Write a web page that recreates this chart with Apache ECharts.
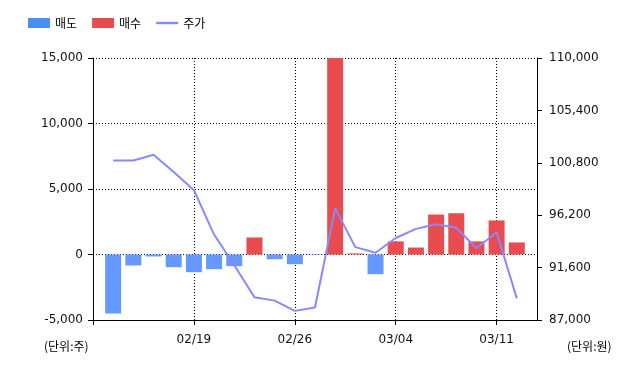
<!DOCTYPE html>
<html>
<head>
<meta charset="utf-8">
<script src="https://cdn.jsdelivr.net/npm/echarts@6/dist/echarts.min.js"></script>
<style>
html,body{margin:0;padding:0;background:#fff;}
#c{width:640px;height:368px;}
</style>
</head>
<body>
<div id="c"></div>
<script>
// Trading days (pad at both ends for axis spacing)
var dates = ['', '02/13','02/14','02/17','02/18','02/19','02/20','02/21','02/24','02/25','02/26',
             '02/27','02/28','03/02','03/03','03/04','03/05','03/06','03/09','03/10','03/11','03/12', ''];
var tickLabels = ['02/19','02/26','03/04','03/11'];
// 매도 (net selling, negative)
var sellValues = [null, -4500, -840, -150, -970, -1350, -1120, -890, null, -360, -740, -40, null, null, -1500, null, null, null, null, null, null, null, null];
// 매수 (net buying, positive)
var buyValues  = [null, null, null, null, null, null, null, null, 1300, null, null, null, 15000, 80, null, 1000, 530, 3050, 3150, 1000, 2600, 920, null];
// 주가 (price)
var priceValues = [null, 101000, 101000, 101500, 100000, 98400, 94500, 91800, 89000, 88700, 87800, 88100, 96800,
                   93400, 92900, 94200, 95000, 95400, 95100, 93300, 94700, 88900, null];
var leftTicks = [-5000, 0, 5000, 10000, 15000];
var rightTicks = [87000, 91600, 96200, 100800, 105400, 110000];

var fmt = function (v) { return Number(v).toLocaleString('en-US'); };
var tickIdx = function (i) { return i === 0 || tickLabels.indexOf(dates[i]) >= 0; };
var labelIdx = function (i) { return tickLabels.indexOf(dates[i]) >= 0; };

var chart = echarts.init(document.getElementById('c'), null, {renderer: 'canvas'});
var axisFont = {color: '#111', fontSize: 12, fontFamily: 'Tahoma, "DejaVu Sans", sans-serif'};
chart.setOption({
  animation: false,
  backgroundColor: '#fff',
  legend: {
    left: 28, top: 17, padding: 0,
    itemWidth: 22, itemHeight: 10, itemGap: 15,
    textStyle: {fontSize: 12, color: '#000', fontFamily: '"Noto Sans CJK KR", sans-serif'},
    data: [
      {name: '매도', icon: 'rect', itemStyle: {color: '#4a90f0'}},
      {name: '매수', icon: 'rect', itemStyle: {color: '#e84c4f'}},
      {name: '주가', icon: 'path://M0,0L0,0M0,3.8L22,3.8L22,6.2L0,6.2ZM22,10L22,10', itemStyle: {color: '#8888ff'}}
    ]
  },
  grid: {left: 93, right: 103, top: 58, bottom: 48, containLabel: false},
  xAxis: {
    type: 'category',
    data: dates,
    boundaryGap: false,
    axisLine: {onZero: false, lineStyle: {color: '#000', width: 1}},
    axisTick: {show: true, interval: function (i) { return tickIdx(i); }, length: 5, lineStyle: {color: '#000'}},
    axisLabel: Object.assign({interval: function (i) { return labelIdx(i); }, margin: 14}, axisFont),
    splitLine: {show: true, interval: function (i) { return labelIdx(i); }, lineStyle: {color: '#000', type: [1, 2], width: 1}}
  },
  yAxis: [
    {
      type: 'value', position: 'left',
      min: leftTicks[0], max: leftTicks[leftTicks.length - 1], interval: 5000,
      axisLine: {show: true, lineStyle: {color: '#000'}},
      axisTick: {show: true, length: 5, lineStyle: {color: '#000'}},
      axisLabel: Object.assign({formatter: fmt, margin: 10}, axisFont),
      splitLine: {show: true, lineStyle: {color: '#000', type: [1, 2], width: 1}}
    },
    {
      type: 'value', position: 'right',
      min: rightTicks[0], max: rightTicks[rightTicks.length - 1],
      interval: 4600,
      axisLine: {show: true, lineStyle: {color: '#000'}},
      axisTick: {show: true, length: 5, lineStyle: {color: '#000'}, customValues: rightTicks},
      axisLabel: Object.assign({formatter: fmt, margin: 12, customValues: rightTicks}, axisFont),
      splitLine: {show: false}
    }
  ],
  series: [
    {name: '매도', type: 'bar', data: sellValues, barWidth: 16, barGap: '-100%', itemStyle: {color: '#6699ff'}, yAxisIndex: 0},
    {name: '매수', type: 'bar', data: buyValues, barWidth: 16, barGap: '-100%', itemStyle: {color: '#e84c4f'}, yAxisIndex: 0},
    {name: '주가', type: 'line', data: priceValues, yAxisIndex: 1, symbol: 'none', showSymbol: false,
     lineStyle: {color: '#8888ff', width: 2}, itemStyle: {color: '#8888ff'}, z: 5}
  ],
  graphic: [
    {type: 'text', left: 44, top: 340, style: {text: '(단위:주)', fontSize: 12, fill: '#000', fontFamily: '"Noto Sans CJK KR", sans-serif'}},
    {type: 'text', left: 567, top: 340, style: {text: '(단위:원)', fontSize: 12, fill: '#000', fontFamily: '"Noto Sans CJK KR", sans-serif'}}
  ]
});
</script>
</body>
</html>
